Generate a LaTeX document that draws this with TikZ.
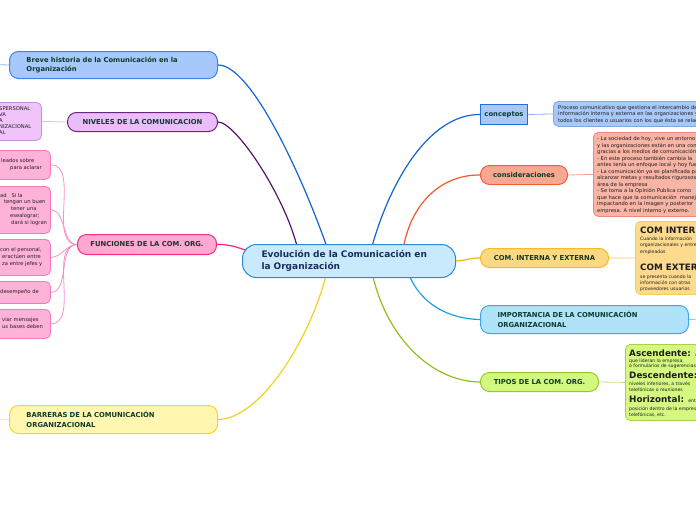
\documentclass[tikz,border=0pt]{standalone}
\usepackage{fontspec}
\setmainfont{DejaVu Sans}
\pgfdeclarelayer{back}
\pgfdeclarelayer{bg}
\pgfsetlayers{back,bg,main}
\definecolor{txt}{HTML}{0F3A2C}
\definecolor{leaftxt}{HTML}{1E1E1E}
\definecolor{ctrtxt}{HTML}{1A2C5C}
\definecolor{ctrfill}{HTML}{C8EAFC}
\definecolor{ctrdraw}{HTML}{2A8AD6}
\definecolor{brevefill}{HTML}{A6C8FA}
\definecolor{brevedraw}{HTML}{3F83E6}
\definecolor{blueline}{HTML}{1464D0}
\definecolor{breveleft}{HTML}{90B8F0}
\definecolor{nivfill}{HTML}{E9BDF9}
\definecolor{nivdraw}{HTML}{6E2580}
\definecolor{nivline}{HTML}{541666}
\definecolor{nivleaf}{HTML}{F0C4FA}
\definecolor{nivleafdraw}{HTML}{C890E0}
\definecolor{nivleafline}{HTML}{DCC0EA}
\definecolor{funfill}{HTML}{FFA8D2}
\definecolor{fundraw}{HTML}{F0307E}
\definecolor{funline}{HTML}{F0287A}
\definecolor{funleaf}{HTML}{FFB2D8}
\definecolor{funleafdraw}{HTML}{F878B8}
\definecolor{funleafline}{HTML}{F890C8}
\definecolor{barfill}{HTML}{FFF6B0}
\definecolor{bardraw}{HTML}{F2D820}
\definecolor{barline}{HTML}{F0D41C}
\definecolor{barleft}{HTML}{F8E890}
\definecolor{confill}{HTML}{A8C8F8}
\definecolor{condraw}{HTML}{2070D8}
\definecolor{conleaf}{HTML}{A8C8FA}
\definecolor{conleafdraw}{HTML}{7FA8EA}
\definecolor{conleafline}{HTML}{90B0E8}
\definecolor{cnsfill}{HTML}{F8A890}
\definecolor{cnsdraw}{HTML}{F06040}
\definecolor{cnsline}{HTML}{F05A28}
\definecolor{cnsleaf}{HTML}{F8B4A4}
\definecolor{cnsleafdraw}{HTML}{F08878}
\definecolor{cnsleafline}{HTML}{F4A090}
\definecolor{cifill}{HTML}{FDD882}
\definecolor{cidraw}{HTML}{F8BC20}
\definecolor{ciline}{HTML}{F8B810}
\definecolor{cileaf}{HTML}{FDDA8E}
\definecolor{cileafdraw}{HTML}{F8CC60}
\definecolor{cileafline}{HTML}{FCE8C0}
\definecolor{impfill}{HTML}{B0E2FA}
\definecolor{impdraw}{HTML}{40A8E8}
\definecolor{impline}{HTML}{20A0E0}
\definecolor{impright}{HTML}{80C8F0}
\definecolor{tipfill}{HTML}{D2F880}
\definecolor{tipdraw}{HTML}{98C828}
\definecolor{tipline}{HTML}{90C020}
\definecolor{tipleaf}{HTML}{D4F880}
\definecolor{tipleafdraw}{HTML}{A8D048}
\definecolor{tipleafline}{HTML}{C0E090}
\tikzset{
  branch/.style={draw, line width=1pt, rounded corners=9pt, anchor=north west, inner sep=0pt,
    font=\fontsize{6.8}{9.5}\selectfont\bfseries, text=txt},
  leafbox/.style={draw, line width=0.8pt, rounded corners=5pt, anchor=north west, inner sep=0pt},
  leaftext/.style={anchor=base west, inner sep=0pt, align=left, text=leaftxt},
  smallfont/.style={font=\fontsize{5.2}{6.6}\selectfont},
  tinyfont/.style={font=\fontsize{4.6}{6.3}\selectfont},
  headfont/.style={font=\fontsize{8.8}{9}\selectfont\bfseries},
  conn/.style={line width=1.2pt},
  subconn/.style={line width=0.8pt},
}
\begin{document}
\begin{tikzpicture}[x=1pt,y=-1pt]
\useasboundingbox (0,0) rectangle (696,520);
\clip (0,0) rectangle (696,520);
\begin{pgfonlayer}{back}
\fill[white] (0,0) rectangle (696,520);
\end{pgfonlayer}

% central node
\node[branch, rounded corners=14pt, fill=ctrfill, draw=ctrdraw, minimum height=33pt,
  inner xsep=19pt, text width=175pt, align=left,
  font=\fontsize{9}{11.5}\selectfont\bfseries, text=ctrtxt] (ctr) at (242,244)
  {Evolución de la Comunicación en\\la Organización};

% left branches
\node[branch, fill=brevefill, draw=brevedraw, minimum height=27pt, inner xsep=17pt,
  text width=174pt, align=left] (breve) at (9,51)
  {Breve historia de la Comunicación en la\\Organización};
\node[branch, fill=nivfill, draw=nivdraw, minimum width=150pt, minimum height=19pt,
  align=center] (niv) at (67,112) {NIVELES DE LA COMUNICACION};
\node[branch, fill=funfill, draw=fundraw, minimum width=139pt, minimum height=20pt,
  align=center] (fun) at (77,234) {FUNCIONES DE LA COM. ORG.};
\node[branch, fill=barfill, draw=bardraw, minimum height=28pt, inner xsep=17pt,
  text width=174pt, align=left] (bar) at (9,405)
  {BARRERAS DE LA COMUNICACIÓN\\ORGANIZACIONAL};

% right branches
\node[branch, rounded corners=0pt, fill=confill, draw=condraw, minimum width=47pt,
  minimum height=20pt, align=center] (con) at (480,104) {conceptos};
\node[branch, fill=cnsfill, draw=cnsdraw, minimum width=87pt, minimum height=19pt,
  align=center] (cns) at (480,165) {consideraciones};
\node[branch, fill=cifill, draw=cidraw, minimum width=128pt, minimum height=19pt,
  align=center] (ci) at (480,248) {COM. INTERNA Y EXTERNA};
\node[branch, fill=impfill, draw=impdraw, minimum height=28pt, inner xsep=17pt,
  text width=174pt, align=left] (imp) at (480,305)
  {IMPORTANCIA DE LA COMUNICACIÓN\\ORGANIZACIONAL};
\node[branch, fill=tipfill, draw=tipdraw, minimum width=118pt, minimum height=19pt,
  align=center] (tip) at (480,372) {TIPOS DE LA COM. ORG.};

% left leaves (text anchors are the baseline of the last line)
\node[leafbox, fill=nivleaf, draw=nivleafdraw, minimum width=51pt, minimum height=38pt] (nivleafbox) at (-10,102) {};
\node[leaftext, font=\fontsize{5.2}{6}\selectfont] (nivleaftxt) at (-1,134.5)
  {SPERSONAL\\VA\\A\\NIZACIONAL\\AL};

\node[leafbox, fill=funleaf, draw=funleafdraw, minimum width=60pt, minimum height=29pt] (fl1) at (-10,150) {};
\node[leaftext, font=\fontsize{5.2}{7.5}\selectfont] (fl1txt) at (1,169.5)
  {leados sobre\\\hspace*{9pt}para aclarar};
\node[leafbox, fill=funleaf, draw=funleafdraw, minimum width=60pt, minimum height=47pt] (fl2) at (-10,186) {};
\node[leaftext, font=\fontsize{5.2}{6.8}\selectfont] (fl2txt) at (0,224.2)
  {ad \ \ Si la\\\hspace*{4pt}tengan un buen\\\hspace*{11pt}tener una\\\hspace*{10pt}esealograr;\\\hspace*{11pt}dará si logran};
\node[leafbox, fill=funleaf, draw=funleafdraw, minimum width=60pt, minimum height=36pt] (fl3) at (-10,239) {};
\node[leaftext, font=\fontsize{5.2}{7}\selectfont] (fl3txt) at (0,265)
  {con el personal,\\\hspace*{2pt}eractúen entre\\\hspace*{2pt}za entre jefes y};
\node[leafbox, fill=funleaf, draw=funleafdraw, minimum width=60pt, minimum height=22pt] (fl4) at (-10,281) {};
\node[leaftext, smallfont] (fl4txt) at (0,293.5) {desempeño de};
\node[leafbox, fill=funleaf, draw=funleafdraw, minimum width=60pt, minimum height=29pt] (fl5) at (-10,309) {};
\node[leaftext, font=\fontsize{5.2}{7.5}\selectfont] (fl5txt) at (2,328.5)
  {viar mensajes\\us bases deben};

% right leaves
\node[leafbox, fill=conleaf, draw=conleafdraw, minimum width=200pt, minimum height=25pt] (conleafbox) at (553,101) {};
\node[leaftext, smallfont] (conleaftxt) at (558,122.2)
  {Proceso comunicativo que gestiona el intercambio de\\información interna y externa en las organizaciones y\\todos los clientes o usuarios con los que ésta se relaciona};

\node[leafbox, fill=cnsleaf, draw=cnsleafdraw, minimum width=150pt, minimum height=84pt] (cnsleafbox) at (593,132) {};
\node[leaftext, font=\fontsize{5.2}{6.5}\selectfont] (cnsleaftxt) at (597,212)
  {- La sociedad de hoy, vive un entorno\\y las organizaciones están en una constante\\gracias a los medios de comunicación\\- En este proceso también cambia la\\antes tenía un enfoque local y hoy fue\\- La comunicación ya es planificada para\\alcanzar metas y resultados rigurosos\\área de la empresa\\- Se toma a la Opinión Publica como\\que hace que la comunicación \ maneje\\impactando en la imagen y posterior\\empresa. A nivel interno y externo.};

\node[leafbox, fill=cileaf, draw=cileafdraw, minimum width=120pt, minimum height=73pt] (cileafbox) at (635,221) {};
\node[leaftext, headfont] (cih1) at (640,233) {COM INTERNA};
\node[leaftext, tinyfont] (cit1) at (640,253.1) {Cuando la información\\organizacionales y entre\\empleados};
\node[leaftext, headfont] (cih2) at (640,270.5) {COM EXTERNA};
\node[leaftext, tinyfont] (cit2) at (640,290.6) {se presenta cuando la\\información con otras\\proveedores usuarios};

\node[leafbox, fill=tipleaf, draw=tipleafdraw, minimum width=120pt, minimum height=76pt] (tipleafbox) at (625,344) {};
\node[leaftext] (th1) at (629,356.5) {{\fontsize{8.8}{9}\selectfont\bfseries Ascendente:} {\fontsize{4.6}{5}\selectfont a}};
\node[leaftext, font=\fontsize{4.6}{5.2}\selectfont] (tt1) at (629,367.7) {que lideran la empresa,\\o formularios de sugerencias};
\node[leaftext, headfont] (th2) at (629,378.5) {Descendente:};
\node[leaftext, font=\fontsize{4.6}{6.3}\selectfont] (tt2) at (629,391.8) {niveles inferiores, a través\\telefónicas o reuniones};
\node[leaftext] (th3) at (629,402.5) {{\fontsize{8.8}{9}\selectfont\bfseries Horizontal:} {\fontsize{4.6}{5}\selectfont entre}};
\node[leaftext, font=\fontsize{4.6}{6}\selectfont] (tt3) at (629,416.5) {posición dentro de la empresa\\telefónicas, etc.};

% free ends
\coordinate (breveend) at (-5,64.5);
\coordinate (barend) at (-5,419);
\coordinate (impend) at (705,319);
\coordinate (cB) at (328,250);
\coordinate (cN) at (298,250);
\coordinate (cF) at (256,254);
\coordinate (cBa) at (327,272);
\coordinate (cC) at (371,250);
\coordinate (cS) at (403,250);
\coordinate (cI) at (408,272);
\coordinate (cT) at (372,272);

\begin{pgfonlayer}{bg}
\draw[conn, blueline] (breve.east) .. controls (250,64.5) and (300,170) .. (cB);
\draw[conn, nivline] (niv.east) .. controls (235,121.5) and (285,195) .. (cN);
\draw[conn, funline] (fun.east) .. controls (230,244) and (240,248) .. (cF);
\draw[conn, barline] (bar.east) .. controls (260,419) and (310,340) .. (cBa);
\draw[conn, blueline] (con.west) .. controls (430,114) and (390,180) .. (cC);
\draw[conn, cnsline] (cns.west) .. controls (440,174.5) and (410,205) .. (cS);
\draw[conn, ciline] (ctr.east) .. controls (467,260.5) and (470,257.5) .. (ci.west);
\draw[conn, impline] (cI) .. controls (420,305) and (450,319) .. (imp.west);
\draw[conn, tipline] (cT) .. controls (385,335) and (430,381.5) .. (tip.west);

\draw[subconn, breveleft] (breve.west) -- (breveend);
\draw[subconn, barleft] (bar.west) -- (barend);
\draw[subconn, impright] (imp.east) -- (impend);
\draw[subconn, nivleafline] (niv.west) -- (nivleafbox.east);
\draw[subconn, conleafline] (con.east) -- (conleafbox.west);
\draw[subconn, cnsleafline] (cns.east) -- (cnsleafbox.west);
\draw[subconn, cileafline, line width=1.6pt] (ci.east) -- (cileafbox.west);
\draw[subconn, tipleafline] (tip.east) -- (tipleafbox.west);
\foreach \k in {1,...,5} {
  \draw[subconn, funleafline] (fun.west) to[out=180, in=0, looseness=0.9] (fl\k.east);
}
\end{pgfonlayer}
\end{tikzpicture}
\end{document}
